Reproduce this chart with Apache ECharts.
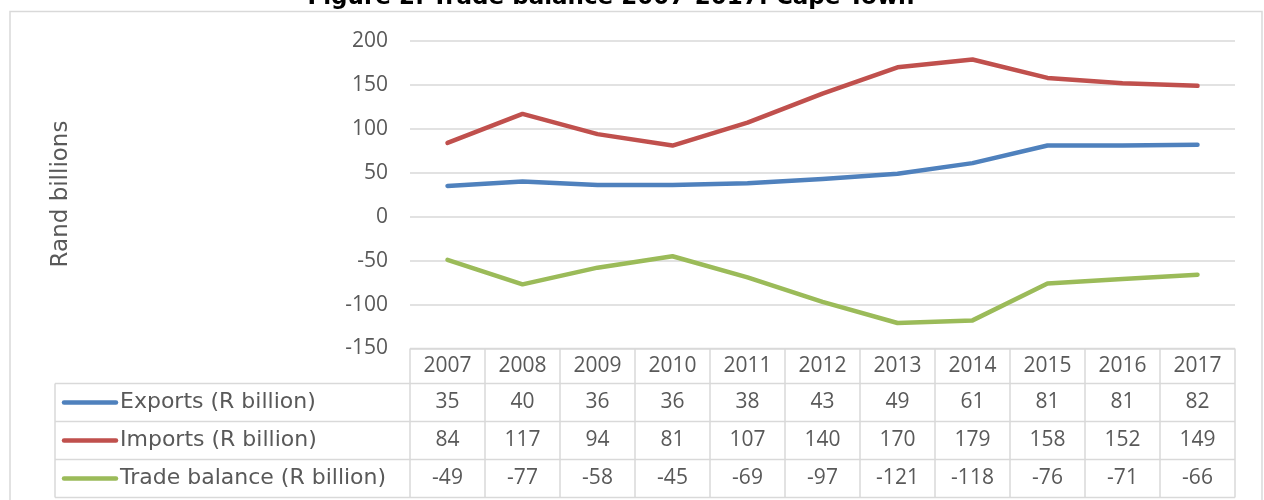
<!DOCTYPE html>
<html><head><meta charset="utf-8">
<script src="https://cdn.jsdelivr.net/npm/echarts@6/dist/echarts.min.js"></script>
<style>html,body{margin:0;padding:0;background:#fff}#c{width:1264px;height:500px}</style>
</head><body><div id="c"></div>
<script>
const years = ['2007','2008','2009','2010','2011','2012','2013','2014','2015','2016','2017'];
const exportsVals = [35, 40, 36, 36, 38, 43, 49, 61, 81, 81, 82];
const importsVals = [84, 117, 94, 81, 107, 140, 170, 179, 158, 152, 149];
const balanceVals = [-49, -77, -58, -45, -69, -97, -121, -118, -76, -71, -66];
const seriesNames = ['Exports (R billion)', 'Imports (R billion)', 'Trade balance (R billion)'];
const colors = ['#4f81bd', '#c0504d', '#9bbb59'];
const titleText = 'Figure 2: Trade balance 2007-2017: Cape Town';
const yName = 'Rand billions';

(function () {
const FONT = 'Open Sans';
const WFONT = 'DejaVu Sans';
const TXT = '#595959';
const GRID = '#d9d9d9';

const chart = echarts.init(document.getElementById('c'), null, {renderer: 'canvas'});
const option = {
  animation: false,
  grid: {left: 410, right: 29, top: 41, bottom: 151.5},
  xAxis: {
    type: 'category', data: years, boundaryGap: true,
    axisLine: {show: false}, axisTick: {show: false}, axisLabel: {show: false}
  },
  yAxis: {
    type: 'value', min: -150, max: 200, interval: 50,
    axisLine: {show: false}, axisTick: {show: false},
    axisLabel: {color: TXT, fontFamily: FONT, fontSize: 21, margin: 22},
    splitLine: {lineStyle: {color: GRID, width: 1.5}}
  },
  series: [exportsVals, importsVals, balanceVals].map((d, i) => ({
    type: 'line', name: seriesNames[i], data: d, symbol: 'none',
    lineStyle: {color: colors[i], width: 4.5, cap: 'round', join: 'round'},
    itemStyle: {color: colors[i]}
  }))
};
chart.setOption(option);

const xs = years.map((_, i) => chart.convertToPixel({xAxisIndex: 0}, i));
const colW = xs.length > 1 ? xs[1] - xs[0] : 75;
const tLeft = xs[0] - colW / 2;
const tRight = xs[xs.length - 1] + colW / 2;
const tTop = chart.convertToPixel({yAxisIndex: 0}, -150);
const headerH = 35, rowH = 38;
const tableLeft = 55;
const g = [];
const line = (x1, y1, x2, y2) => g.push({type: 'line', shape: {x1, y1, x2, y2}, style: {stroke: GRID, lineWidth: 1.5}, silent: true});
const text = (x, y, t, align, opts) => g.push({type: 'text', x, y, style: Object.assign({text: t, fill: TXT, font: '20px "' + FONT + '"', textAlign: align, textVerticalAlign: 'middle'}, opts || {}), silent: true});

g.push({type: 'rect', shape: {x: 10, y: 11.5, width: 1252, height: 520}, style: {fill: 'none', stroke: GRID, lineWidth: 1.5}, silent: true});
text(611, -2, titleText, 'center', {font: 'bold 23px "' + WFONT + '"', fill: '#000'});
g.push({type: 'text', x: 61, y: 194, rotation: Math.PI / 2, style: {text: yName, fill: TXT, font: '23px "' + WFONT + '"', textAlign: 'center', textVerticalAlign: 'middle'}, silent: true});

line(tLeft, tTop, tRight, tTop);
const rowsTop = tTop + headerH;
const tBottom = rowsTop + rowH * 3;
for (let r = 0; r <= 3; r++) line(tableLeft, rowsTop + rowH * r, tRight, rowsTop + rowH * r);
line(tableLeft, rowsTop, tableLeft, tBottom);
for (let i = 0; i <= years.length; i++) {
  const x = tLeft + colW * i;
  line(x, tTop, x, tBottom);
}
years.forEach((y, i) => text(xs[i], tTop + headerH / 2, y, 'center', {font: '21px "' + FONT + '"'}));
[exportsVals, importsVals, balanceVals].forEach((d, r) => {
  const cy = rowsTop + rowH * r + rowH / 2;
  g.push({type: 'line', shape: {x1: 64, y1: cy, x2: 116, y2: cy}, style: {stroke: colors[r], lineWidth: 4.5, lineCap: 'round'}, silent: true});
  text(120, cy, seriesNames[r], 'left', {font: '22px "' + WFONT + '"'});
  d.forEach((v, i) => text(xs[i], cy, String(v), 'center', {font: '21px "' + FONT + '"'}));
});
chart.setOption({graphic: g});
})();
</script></body></html>
